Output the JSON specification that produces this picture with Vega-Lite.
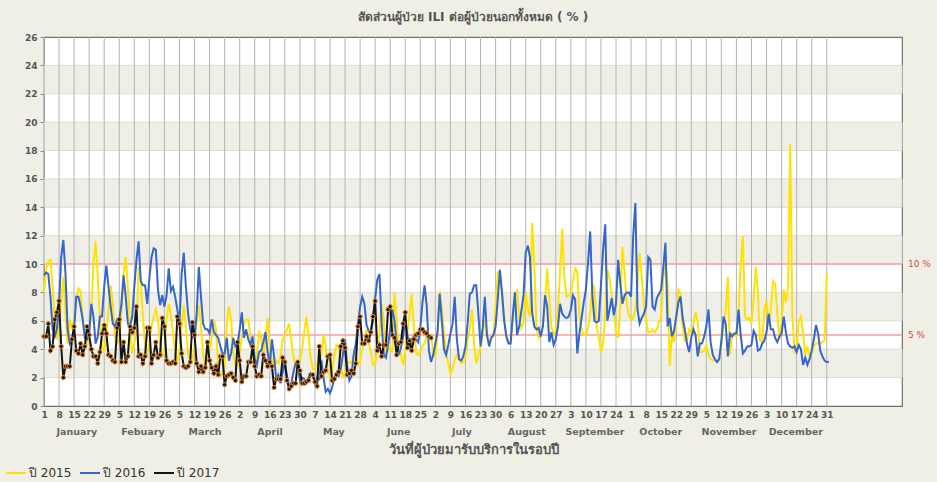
{
"$schema":"https://vega.github.io/schema/vega-lite/v6.json",
"width":858,"height":369,
"autosize":{"type":"none"},
"padding":{"left":44,"top":37,"right":35,"bottom":76},
"background":"#efefe5",
"config":{"view":{"stroke":"#707070","strokeWidth":1.2,"fill":"#ffffff"},"font":"DejaVu Sans","axis":{"labelOverlap":false,"labelSeparation":0,"labelBound":false}},
"title":{"text":"สัดส่วนผู้ป่วย ILI ต่อผู้ป่วยนอกทั้งหมด ( % )","fontSize":12,"fontWeight":"bold","color":"#555555","offset":9},
"datasets":{"main":[
{"d":1,"a":8,"b":9.2,"c":4.9},{"d":2,"a":9.6,"b":9.4,"c":4.9},{"d":3,"a":10.2,"b":9.3,"c":5.8},{"d":4,"a":10.3,"b":7.7,"c":3.9},{"d":5,"a":8.4,"b":5.4,"c":4.2},{"d":6,"a":6.1,"b":4.9,"c":6.1},{"d":7,"a":4.7,"b":5.4,"c":6.6},{"d":8,"a":5.4,"b":7.2,"c":7.4},{"d":9,"a":7.5,"b":10.5,"c":4.2},{"d":10,"a":9.1,"b":11.7,"c":2},
{"d":11,"a":6.5,"b":9.3,"c":2.8},{"d":12,"a":4.4,"b":5.4,"c":2.8},{"d":13,"a":6.1,"b":4.4,"c":2.8},{"d":14,"a":5.4,"b":4.7,"c":4.7},{"d":15,"a":6.1,"b":5.4,"c":5.6},{"d":16,"a":7.5,"b":7.7,"c":3.9},{"d":17,"a":8.3,"b":7.7,"c":3.7},{"d":18,"a":8.1,"b":7,"c":4.4},{"d":19,"a":6.1,"b":6.1,"c":3.6},{"d":20,"a":4.8,"b":4.8,"c":4.2},
{"d":21,"a":4.3,"b":4.7,"c":5.6},{"d":22,"a":5.1,"b":5.1,"c":5},{"d":23,"a":6.5,"b":7.2,"c":4},{"d":24,"a":10.1,"b":6.3,"c":3.5},{"d":25,"a":11.6,"b":4.4,"c":3.5},{"d":26,"a":9.1,"b":4.9,"c":3},{"d":27,"a":6.1,"b":6.3,"c":3.8},{"d":28,"a":4.2,"b":6.3,"c":5.1},{"d":29,"a":3.9,"b":8.4,"c":5.7},{"d":30,"a":4.9,"b":9.9,"c":5.1},
{"d":31,"a":6.8,"b":8.4,"c":3.6},{"d":32,"a":8.5,"b":7,"c":3.5},{"d":33,"a":7.2,"b":5.8,"c":3.2},{"d":34,"a":4.9,"b":5.6,"c":3.1},{"d":35,"a":4.4,"b":6.1,"c":5.5},{"d":36,"a":4.7,"b":6.1,"c":6.1},{"d":37,"a":6.5,"b":7.2,"c":3.1},{"d":38,"a":9.3,"b":9.2,"c":4.5},{"d":39,"a":10.5,"b":7.7,"c":3.1},{"d":40,"a":8.4,"b":5.8,"c":3.5},
{"d":41,"a":5.4,"b":5.6,"c":5.6},{"d":42,"a":3.7,"b":6.3,"c":5.2},{"d":43,"a":4.4,"b":8.4,"c":5.5},{"d":44,"a":5.4,"b":10.3,"c":7},{"d":45,"a":9.8,"b":11.6,"c":3.5},{"d":46,"a":8.9,"b":8.8,"c":3.6},{"d":47,"a":6.3,"b":8.5,"c":3},{"d":48,"a":4.2,"b":8.5,"c":3.5},{"d":49,"a":3.7,"b":7.2,"c":5.5},{"d":50,"a":4.4,"b":9,"c":5.5},
{"d":51,"a":5.6,"b":10.5,"c":3},{"d":52,"a":6.3,"b":11.1,"c":3.6},{"d":53,"a":6.8,"b":11,"c":4.5},{"d":54,"a":6.1,"b":8.2,"c":3.4},{"d":55,"a":4.4,"b":7.1,"c":3.6},{"d":56,"a":3.5,"b":7.8,"c":6.2},{"d":57,"a":3.7,"b":7,"c":5.6},{"d":58,"a":6.1,"b":7.8,"c":3.2},{"d":59,"a":7.2,"b":9.7,"c":3},{"d":60,"a":6.5,"b":8.1,"c":3},
{"d":61,"a":5.1,"b":8.4,"c":3.1},{"d":62,"a":3.7,"b":7.7,"c":3},{"d":63,"a":3.2,"b":6.8,"c":6.3},{"d":64,"a":3.7,"b":5.8,"c":5.8},{"d":65,"a":5.6,"b":9.3,"c":3.7},{"d":66,"a":7.1,"b":10.8,"c":2.8},{"d":67,"a":5.6,"b":8.4,"c":2.7},{"d":68,"a":3.7,"b":6.5,"c":2.8},{"d":69,"a":3.1,"b":5.4,"c":3.1},{"d":70,"a":3.2,"b":4.9,"c":5.9},
{"d":71,"a":4.2,"b":4.8,"c":5},{"d":72,"a":6.1,"b":6.5,"c":3},{"d":73,"a":7.1,"b":9.8,"c":2.4},{"d":74,"a":5.6,"b":7.7,"c":2.8},{"d":75,"a":3.7,"b":5.8,"c":2.4},{"d":76,"a":2.8,"b":5.4,"c":2.7},{"d":77,"a":3.5,"b":5.4,"c":4.5},{"d":78,"a":3.9,"b":5.1,"c":3.2},{"d":79,"a":4.9,"b":6.1,"c":2.7},{"d":80,"a":6.1,"b":5.2,"c":2.3},
{"d":81,"a":5.4,"b":5,"c":2.8},{"d":82,"a":2.8,"b":4.8,"c":2.2},{"d":83,"a":2.1,"b":4.2,"c":3.5},{"d":84,"a":2.3,"b":3.7,"c":3.5},{"d":85,"a":2.8,"b":3.7,"c":1.5},{"d":86,"a":5.8,"b":4.8,"c":2.1},{"d":87,"a":7,"b":3.2,"c":2.2},{"d":88,"a":6.1,"b":3.7,"c":2.3},{"d":89,"a":3.7,"b":4.8,"c":2},{"d":90,"a":2.8,"b":4.2,"c":1.8},
{"d":91,"a":2.8,"b":4.4,"c":4.5},{"d":92,"a":3.7,"b":5.4,"c":3.2},{"d":93,"a":4.9,"b":6.6,"c":1.7},{"d":94,"a":5.8,"b":4.8,"c":2.1},{"d":95,"a":6.1,"b":5.4,"c":2.1},{"d":96,"a":6.1,"b":4.7,"c":3.1},{"d":97,"a":4.8,"b":4.3,"c":3.1},{"d":98,"a":3,"b":4.9,"c":4.2},{"d":99,"a":2.9,"b":3.3,"c":2.8},{"d":100,"a":3.6,"b":2.9,"c":2.1},
{"d":101,"a":5.2,"b":3.8,"c":2.2},{"d":102,"a":4.9,"b":3.9,"c":2.1},{"d":103,"a":3.3,"b":4.5,"c":3.6},{"d":104,"a":5,"b":5.2,"c":3.2},{"d":105,"a":6.2,"b":3.8,"c":2.8},{"d":106,"a":4,"b":2.9,"c":3.1},{"d":107,"a":3.1,"b":4.7,"c":2.8},{"d":108,"a":2.8,"b":3.5,"c":1.3},{"d":109,"a":3.2,"b":1.9,"c":1.9},{"d":110,"a":3,"b":2.2,"c":1.9},
{"d":111,"a":3.5,"b":1.6,"c":1.9},{"d":112,"a":4.7,"b":2.4,"c":3.4},{"d":113,"a":5,"b":3.1,"c":3.1},{"d":114,"a":5.4,"b":2.1,"c":1.8},{"d":115,"a":5.8,"b":1.4,"c":1.2},{"d":116,"a":4.6,"b":1.6,"c":1.4},{"d":117,"a":3.4,"b":2.4,"c":1.6},{"d":118,"a":2.9,"b":3,"c":1.6},{"d":119,"a":2.8,"b":3,"c":3.1},{"d":120,"a":3.1,"b":1.8,"c":2.5},
{"d":121,"a":4,"b":2,"c":1.6},{"d":122,"a":5.2,"b":1.9,"c":1.6},{"d":123,"a":6.3,"b":1.6,"c":1.7},{"d":124,"a":5,"b":2,"c":1.8},{"d":125,"a":3.4,"b":2.3,"c":2.2},{"d":126,"a":2.6,"b":2.1,"c":2.2},{"d":127,"a":2.6,"b":1.6,"c":1.7},{"d":128,"a":3,"b":2,"c":1.4},{"d":129,"a":3.3,"b":1.9,"c":4.2},{"d":130,"a":3.7,"b":3.2,"c":2.1},
{"d":131,"a":5,"b":2,"c":2.4},{"d":132,"a":4.2,"b":1,"c":2.5},{"d":133,"a":2.4,"b":1.2,"c":3.5},{"d":134,"a":2.1,"b":0.9,"c":3.6},{"d":135,"a":2.5,"b":1.3,"c":1.8},{"d":136,"a":3.5,"b":2,"c":1.9},{"d":137,"a":4.3,"b":2.3,"c":2.2},{"d":138,"a":4.2,"b":2.1,"c":2.4},{"d":139,"a":2.6,"b":2.6,"c":4.2},{"d":140,"a":2.1,"b":3.6,"c":4.6},
{"d":141,"a":2.4,"b":4.7,"c":4.1},{"d":142,"a":3,"b":2.8,"c":2.2},{"d":143,"a":3.1,"b":1.8,"c":2.3},{"d":144,"a":3,"b":2.1,"c":2.5},{"d":145,"a":3.6,"b":3.6,"c":2.3},{"d":146,"a":3.9,"b":4.4,"c":3},{"d":147,"a":2.9,"b":5.8,"c":5.6},{"d":148,"a":3.1,"b":7,"c":6.3},{"d":149,"a":4,"b":7.7,"c":4.4},{"d":150,"a":4.6,"b":7.2,"c":4.4},
{"d":151,"a":5.4,"b":5.7,"c":4.9},{"d":152,"a":4.4,"b":5.3,"c":4.6},{"d":153,"a":3.8,"b":5.2,"c":5.2},{"d":154,"a":2.9,"b":6.1,"c":6.3},{"d":155,"a":2.9,"b":7.6,"c":7.4},{"d":156,"a":3.9,"b":8.9,"c":3.9},{"d":157,"a":5.2,"b":9.3,"c":4.3},{"d":158,"a":7.2,"b":5.9,"c":3.5},{"d":159,"a":6,"b":3.6,"c":4.3},{"d":160,"a":3.8,"b":3.4,"c":4.3},
{"d":161,"a":3.9,"b":4.3,"c":6.8},{"d":162,"a":4.1,"b":5.4,"c":7},{"d":163,"a":3.8,"b":6.8,"c":5},{"d":164,"a":8,"b":6,"c":4.8},{"d":165,"a":6,"b":4.4,"c":3.6},{"d":166,"a":4,"b":3.6,"c":4.4},{"d":167,"a":3.6,"b":4.1,"c":4.5},{"d":168,"a":2.9,"b":4.9,"c":5.8},{"d":169,"a":3.9,"b":6.1,"c":6.6},{"d":170,"a":5.2,"b":5,"c":4.1},
{"d":171,"a":6.5,"b":4,"c":4.6},{"d":172,"a":7.9,"b":4.7,"c":3.9},{"d":173,"a":5.5,"b":4.9,"c":4.7},{"d":174,"a":3.8,"b":4.7,"c":5},{"d":175,"a":3.6,"b":4.5,"c":5.1},{"d":176,"a":3.8,"b":5.5,"c":5.4},{"d":177,"a":4.2,"b":7.3,"c":5.4},{"d":178,"a":4.4,"b":8.5,"c":5.2},{"d":179,"a":5,"b":7,"c":5.1},{"d":180,"a":5,"b":3.9,"c":4.9},
{"d":181,"a":4.9,"b":3.1,"c":4.8},{"d":182,"a":3.8,"b":3.6},{"d":183,"a":3.5,"b":4.4},{"d":184,"a":5,"b":5.2},{"d":185,"a":8.1,"b":7.9},{"d":186,"a":7,"b":6},{"d":187,"a":5.2,"b":4},{"d":188,"a":3.7,"b":3.6},{"d":189,"a":3,"b":4.3},{"d":190,"a":2.3,"b":5.1},
{"d":191,"a":2.6,"b":5.8},{"d":192,"a":3.3,"b":7.7},{"d":193,"a":3.6,"b":4.7},{"d":194,"a":3.3,"b":3.3},{"d":195,"a":3,"b":3.2},{"d":196,"a":3.1,"b":3.5},{"d":197,"a":3.4,"b":4.2},{"d":198,"a":4.7,"b":5.8},{"d":199,"a":5.4,"b":7.9},{"d":200,"a":6.8,"b":8},
{"d":201,"a":4.4,"b":8.5},{"d":202,"a":3,"b":8.5},{"d":203,"a":3.6,"b":6.5},{"d":204,"a":4.1,"b":4.2},{"d":205,"a":5,"b":5.5},{"d":206,"a":6.1,"b":7.7},{"d":207,"a":5,"b":5},{"d":208,"a":4.3,"b":4.2},{"d":209,"a":4.9,"b":4.8},{"d":210,"a":4.9,"b":5},
{"d":211,"a":7,"b":5.6},{"d":212,"a":9.4,"b":7.5},{"d":213,"a":9.4,"b":9.6},{"d":214,"a":7.8,"b":8},{"d":215,"a":6.2,"b":6},{"d":216,"a":5,"b":4.9},{"d":217,"a":4.5,"b":4.4},{"d":218,"a":4.5,"b":4.4},{"d":219,"a":6,"b":6.4},{"d":220,"a":7.8,"b":8},
{"d":221,"a":8.2,"b":5},{"d":222,"a":6.2,"b":5.6},{"d":223,"a":5.5,"b":6.7},{"d":224,"a":5.9,"b":7.8},{"d":225,"a":8,"b":10.8},{"d":226,"a":6.8,"b":11.3},{"d":227,"a":6.3,"b":10.5},{"d":228,"a":12.9,"b":6.6},{"d":229,"a":10,"b":5.6},{"d":230,"a":5.5,"b":5.4},
{"d":231,"a":4.8,"b":5.5},{"d":232,"a":5.1,"b":4.9},{"d":233,"a":5.7,"b":5.6},{"d":234,"a":7.4,"b":7.8},{"d":235,"a":9.7,"b":7},{"d":236,"a":7.4,"b":4.5},{"d":237,"a":5.5,"b":5.2},{"d":238,"a":5.1,"b":4.3},{"d":239,"a":5.3,"b":4.7},{"d":240,"a":6.8,"b":5.6},
{"d":241,"a":9.5,"b":7.2},{"d":242,"a":12.5,"b":6.5},{"d":243,"a":9,"b":6.3},{"d":244,"a":7.7,"b":6.2},{"d":245,"a":7.8,"b":6.3},{"d":246,"a":7.9,"b":6.8},{"d":247,"a":8.8,"b":7.8},{"d":248,"a":9.7,"b":7.5},{"d":249,"a":9.5,"b":3.7},{"d":250,"a":6.3,"b":5.1},
{"d":251,"a":5.4,"b":6.2},{"d":252,"a":5,"b":7.3},{"d":253,"a":5,"b":8.2},{"d":254,"a":5.5,"b":10.1},{"d":255,"a":6.5,"b":12.3},{"d":256,"a":8.6,"b":7.8},{"d":257,"a":8.3,"b":6},{"d":258,"a":5.6,"b":5.9},{"d":259,"a":4.8,"b":6},{"d":260,"a":3.8,"b":8.5},
{"d":261,"a":4.4,"b":11},{"d":262,"a":6.5,"b":12.8},{"d":263,"a":9.6,"b":6},{"d":264,"a":9,"b":6.8},{"d":265,"a":7.9,"b":7.6},{"d":266,"a":6.6,"b":6.4},{"d":267,"a":5.2,"b":7.2},{"d":268,"a":4.8,"b":10.3},{"d":269,"a":7,"b":8.6},{"d":270,"a":11.2,"b":7.2},
{"d":271,"a":9.5,"b":7.8},{"d":272,"a":7.2,"b":8},{"d":273,"a":6.4,"b":8},{"d":274,"a":6.1,"b":7.7},{"d":275,"a":6.2,"b":12},{"d":276,"a":6.8,"b":14.3},{"d":277,"a":8.4,"b":6.8},{"d":278,"a":10.8,"b":5.8},{"d":279,"a":9,"b":6.2},{"d":280,"a":7.1,"b":6.5},
{"d":281,"a":6.1,"b":7},{"d":282,"a":5.2,"b":10.5},{"d":283,"a":5.2,"b":10.3},{"d":284,"a":5.4,"b":7},{"d":285,"a":5.2,"b":6.8},{"d":286,"a":5.4,"b":7.6},{"d":287,"a":5.9,"b":7.9},{"d":288,"a":6.3,"b":8.2},{"d":289,"a":9,"b":9.8},{"d":290,"a":10.4,"b":11.5},
{"d":291,"a":8.6,"b":5.6},{"d":292,"a":2.8,"b":6.2},{"d":293,"a":5,"b":4.9},{"d":294,"a":4.5,"b":5.3},{"d":295,"a":5.8,"b":6.3},{"d":296,"a":8.2,"b":7.3},{"d":297,"a":7.9,"b":7.7},{"d":298,"a":5.6,"b":6.2},{"d":299,"a":4.6,"b":5.4},{"d":300,"a":4.6,"b":4.4},
{"d":301,"a":5.4,"b":3.8},{"d":302,"a":5.2,"b":4.8},{"d":303,"a":5.8,"b":5.4},{"d":304,"a":6.6,"b":5},{"d":305,"a":5.9,"b":3.5},{"d":306,"a":3.8,"b":4.4},{"d":307,"a":3.8,"b":4.4},{"d":308,"a":3.9,"b":4.9},{"d":309,"a":4.3,"b":5.6},{"d":310,"a":3.6,"b":6.8},
{"d":311,"a":3.3,"b":4.5},{"d":312,"a":3.2,"b":3.6},{"d":313,"a":3.2,"b":3.3},{"d":314,"a":3.1,"b":3.1},{"d":315,"a":3.3,"b":3.3},{"d":316,"a":4.2,"b":4.6},{"d":317,"a":5.6,"b":6.3},{"d":318,"a":6.8,"b":5.8},{"d":319,"a":9.1,"b":3.5},{"d":320,"a":3.6,"b":5.1},
{"d":321,"a":5.1,"b":4.9},{"d":322,"a":5,"b":5.1},{"d":323,"a":4.9,"b":5.1},{"d":324,"a":6.6,"b":6.8},{"d":325,"a":10,"b":5},{"d":326,"a":12,"b":3.7},{"d":327,"a":6.3,"b":3.9},{"d":328,"a":6.1,"b":4.2},{"d":329,"a":6.2,"b":4.2},{"d":330,"a":5.8,"b":4.3},
{"d":331,"a":7.6,"b":5.3},{"d":332,"a":9.8,"b":5},{"d":333,"a":8,"b":3.9},{"d":334,"a":4.6,"b":4},{"d":335,"a":4.5,"b":4.4},{"d":336,"a":6.8,"b":4.6},{"d":337,"a":7.4,"b":5.2},{"d":338,"a":5.6,"b":6.5},{"d":339,"a":6.8,"b":5.4},{"d":340,"a":8.8,"b":5.4},
{"d":341,"a":8.6,"b":4.8},{"d":342,"a":6.5,"b":4.5},{"d":343,"a":4.7,"b":4.9},{"d":344,"a":5.8,"b":5.1},{"d":345,"a":8.2,"b":6.3},{"d":346,"a":7.3,"b":5.2},{"d":347,"a":8.4,"b":4.4},{"d":348,"a":18.5,"b":4.2},{"d":349,"a":6.5,"b":4.1},{"d":350,"a":3.8,"b":4.2},
{"d":351,"a":4,"b":3.8},{"d":352,"a":6,"b":4.3},{"d":353,"a":6.3,"b":4},{"d":354,"a":5.1,"b":2.9},{"d":355,"a":3.6,"b":3.4},{"d":356,"a":4.2,"b":2.9},{"d":357,"a":3.6,"b":3.3},{"d":358,"a":3.7,"b":3.9},{"d":359,"a":4.2,"b":4.7},{"d":360,"a":4.4,"b":5.7},
{"d":361,"a":4.4,"b":5.1},{"d":362,"a":4.4,"b":3.9},{"d":363,"a":4.5,"b":3.5},{"d":364,"a":4.6,"b":3.2},{"d":365,"a":9.3,"b":3.1},{"d":366,"b":3.1}
]},
"layer":[
{"data":{"values":[{"lo":2,"hi":4},{"lo":6,"hi":8},{"lo":10,"hi":12},{"lo":14,"hi":16},{"lo":18,"hi":20},{"lo":22,"hi":24}]},
 "mark":{"type":"rect","fill":"#efefe8","stroke":"#dcdcd2","strokeWidth":1},
 "encoding":{"y":{"field":"lo","type":"quantitative","title":null,"scale":{"domain":[0,26],"nice":false,"zero":true},
   "axis":{"values":[0,2,4,6,8,10,12,14,16,18,20,22,24,26],"tickCount":30,"labelOverlap":false,"grid":false,"domain":false,"tickSize":4,"tickColor":"#888888","labelFontSize":9,"labelFontWeight":"bold","labelColor":"#555555","labelPadding":3}},
  "y2":{"field":"hi"}}},
{"data":{"values":[{"t":1},{"t":8},{"t":15},{"t":22},{"t":29},{"t":36},{"t":43},{"t":50},{"t":57},{"t":64},{"t":71},{"t":78},{"t":85},{"t":92},{"t":99},{"t":106},{"t":113},{"t":120},{"t":127},{"t":134},{"t":141},{"t":148},{"t":155},{"t":162},{"t":169},{"t":176},{"t":183},{"t":190},{"t":197},{"t":204},{"t":211},{"t":218},{"t":225},{"t":232},{"t":239},{"t":246},{"t":253},{"t":260},{"t":267},{"t":274},{"t":281},{"t":288},{"t":295},{"t":302},{"t":309},{"t":316},{"t":323},{"t":330},{"t":337},{"t":344},{"t":351},{"t":358},{"t":365}]},
 "mark":{"type":"rule","color":"#b4b4b4","strokeWidth":1},
 "encoding":{"x":{"field":"t","type":"quantitative","scale":{"domain":[1,400],"nice":false,"zero":false},
   "axis":{"values":[1,8,15,22,29,36,43,50,57,64,71,78,85,92,99,106,113,120,127,134,141,148,155,162,169,176,183,190,197,204,211,218,225,232,239,246,253,260,267,274,281,288,295,302,309,316,323,330,337,344,351,358,365],"tickCount":100,
    "labelExpr":"date(datetime(2017, 0, datum.value))","labelOverlap":false,"grid":false,"ticks":false,"domain":false,"labelFontSize":9,"labelFontWeight":"bold","labelColor":"#555555","labelPadding":4,"labelFlush":false,
    "title":"วันที่ผู้ป่วยมารับบริการในรอบปี","titleFontSize":13,"titleFontWeight":"bold","titleColor":"#555555","titlePadding":24}}}},
{"data":{"values":[{"v":10,"t":"10 %"},{"v":5,"t":"5 %"}]},
 "mark":{"type":"rule","color":"#f2a0a0","strokeWidth":1.5},
 "encoding":{"y":{"field":"v","type":"quantitative","title":null}}},
{"data":{"values":[{"v":10,"t":"10 %"},{"v":5,"t":"5 %"}]},
 "mark":{"type":"text","align":"left","dx":6,"color":"#e04848","fontSize":9,"baseline":"middle"},
 "encoding":{"x":{"datum":400,"type":"quantitative"},"y":{"field":"v","type":"quantitative","title":null},"text":{"field":"t"}}},
{"data":{"name":"main"},
 "transform":[{"fold":["a","b","c"],"as":["s","v"]},{"filter":"isValid(datum.v)"}],
 "mark":{"type":"line","strokeWidth":2},
 "encoding":{
  "x":{"field":"d","type":"quantitative"},
  "y":{"field":"v","type":"quantitative","title":null},
  "color":{"field":"s","type":"nominal","scale":{"domain":["a","b","c"],"range":["#FFE200","#3566CC","#151515"]},
   "legend":{"orient":"none","legendX":-39,"legendY":425,"direction":"horizontal","title":null,"symbolType":"stroke","symbolSize":400,"symbolStrokeWidth":2,"labelFontSize":12,"labelColor":"#333333","columnPadding":4,"padding":0,"labelOffset":2,
    "labelExpr":"{'a':'ปี 2015','b':'ปี 2016','c':'ปี 2017'}[datum.label]"}}}},
{"data":{"name":"main"},
 "transform":[{"filter":"isValid(datum.c)"}],
 "mark":{"type":"point","filled":true,"fill":"#2a1500","stroke":"#d9873c","strokeWidth":1,"size":18,"opacity":1},
 "encoding":{"x":{"field":"d","type":"quantitative"},"y":{"field":"c","type":"quantitative","title":null}}},
{"data":{"values":[{"m":"January","p":16.3},{"m":"Febuary","p":47},{"m":"March","p":75.9},{"m":"April","p":106.1},{"m":"May","p":135.8},{"m":"June","p":166},{"m":"July","p":195.3},{"m":"August","p":225.5},{"m":"September","p":257.2},{"m":"October","p":287.8},{"m":"November","p":319.5},{"m":"December","p":350.6}]},
 "mark":{"type":"text","dy":26,"fontSize":9.5,"fontWeight":"bold","color":"#666666","baseline":"middle"},
 "encoding":{"x":{"field":"p","type":"quantitative"},"y":{"datum":0,"type":"quantitative"},"text":{"field":"m"}}}
]
}
